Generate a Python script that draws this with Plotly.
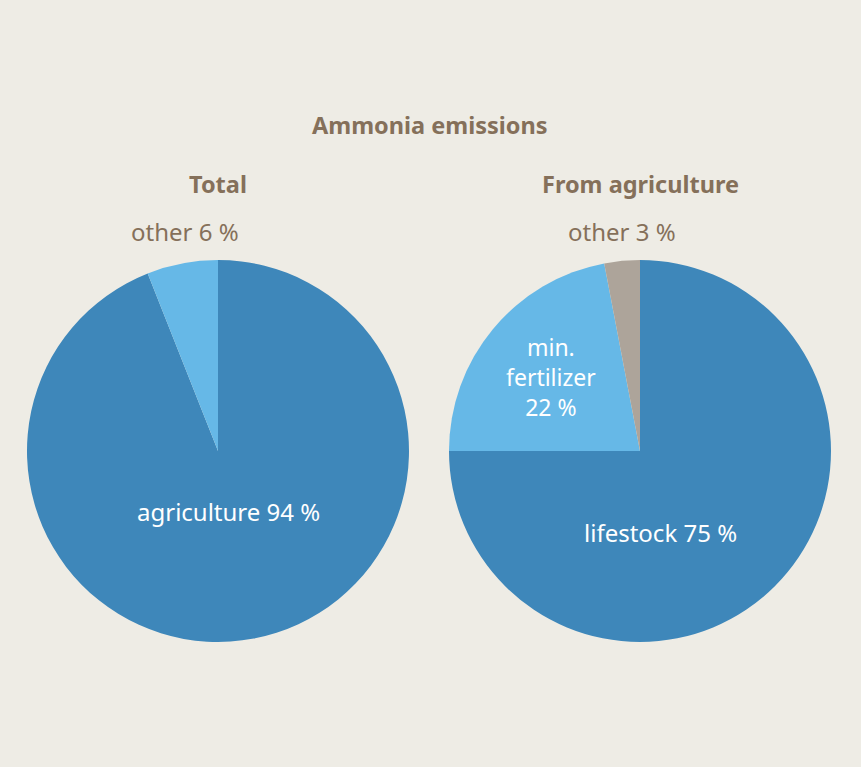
import plotly.graph_objects as go

total_labels = ["agriculture", "other"]
total_values = [94, 6]
agri_labels = ["lifestock", "min. fertilizer", "other"]
agri_values = [75, 22, 3]
colors_total = ["#3E87BA", "#66B8E7"]
colors_agri = ["#3E87BA", "#66B8E7", "#ADA49A"]

W, H = 861, 767
BG = "#EEECE5"
BROWN = "#85705A"
FONT = "Noto Sans"

fig = go.Figure()
fig.add_trace(go.Pie(labels=total_labels, values=total_values, sort=False,
                     direction="clockwise", rotation=0, textinfo="none",
                     hoverinfo="label+percent",
                     marker=dict(colors=colors_total, line=dict(width=0)),
                     domain=dict(x=[27/W, 409/W], y=[1-642/H, 1-260/H]),
                     showlegend=False))
fig.add_trace(go.Pie(labels=agri_labels, values=agri_values, sort=False,
                     direction="clockwise", rotation=0, textinfo="none",
                     hoverinfo="label+percent",
                     marker=dict(colors=colors_agri, line=dict(width=0)),
                     domain=dict(x=[449/W, 831/W], y=[1-642/H, 1-260/H]),
                     showlegend=False))

def ann(x, y, text, color, size=24, bold=False):
    t = f"<b>{text}</b>" if bold else text
    fig.add_annotation(x=x/W, y=1-y/H, xref="paper", yref="paper", text=t,
                       showarrow=False, font=dict(family=FONT, size=size, color=color),
                       xanchor="center", yanchor="middle", align="center")

ann(430, 125, "Ammonia emissions", BROWN, 23.5, True)
ann(218, 184, "Total", BROWN, 23.5, True)
ann(640, 184, "From agriculture", BROWN, 23.5, True)
ann(185, 231, f"{total_labels[1]} {total_values[1]} %", BROWN)
ann(229, 511, f"{total_labels[0]} {total_values[0]} %", "white")
ann(622, 231, f"{agri_labels[2]} {agri_values[2]} %", BROWN)
ann(551, 377, f"min.<br>fertilizer<br>{agri_values[1]} %", "white", 23)
ann(660, 532, f"{agri_labels[0]} {agri_values[0]} %", "white")

fig.update_layout(width=W, height=H, margin=dict(l=0, r=0, t=0, b=0),
                  paper_bgcolor=BG, plot_bgcolor=BG, font=dict(family=FONT))
fig.write_html("out.html")
